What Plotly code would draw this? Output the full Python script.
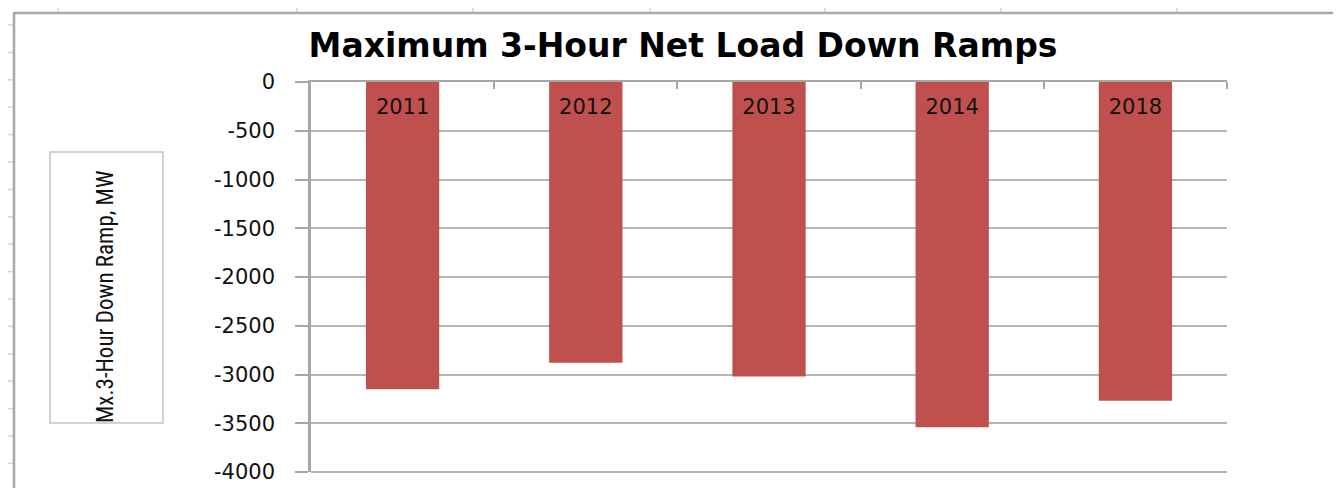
import plotly.graph_objects as go

# ---- data ----
years = ["2011", "2012", "2013", "2014", "2018"]
down_ramp_mw = [-3150, -2880, -3020, -3540, -3270]
y_ticks = [0, -500, -1000, -1500, -2000, -2500, -3000, -3500, -4000]
y_tick_labels = [str(v) for v in y_ticks]

title_text = "Maximum 3-Hour Net Load Down Ramps"
y_title_text = "Mx.3-Hour Down Ramp, MW"

# ---- layout geometry (pixels, in reference-screen coordinates) ----
OFF = 8                      # page body margin
W, H = 1341 - OFF, 488 - OFF  # figure size
L, R, T, B = 311, 1227, 82, 472
PW, PH = R - L, B - T


def xp(px):
    return (px - L) / PW


def yp(py):
    return (B - py) / PH


fig = go.Figure()
fig.add_trace(go.Bar(
    x=years, y=down_ramp_mw, width=0.4,
    marker=dict(color="#C0504D", line=dict(width=0)),
    hoverinfo="x+y",
))

shapes = []
# spreadsheet cell lines behind the chart
for vx in [58, 297, 473, 650, 825, 1001, 1177]:
    shapes.append(dict(type="line", xref="paper", yref="paper",
                       x0=xp(vx), x1=xp(vx), y0=yp(OFF), y1=yp(13),
                       line=dict(color="#d4d4d4", width=1.5), layer="below"))
hy = 25.0
while hy < H + OFF:
    shapes.append(dict(type="line", xref="paper", yref="paper",
                       x0=xp(OFF), x1=xp(13), y0=yp(hy), y1=yp(hy),
                       line=dict(color="#d4d4d4", width=1.5), layer="below"))
    hy += 27.4
# chart area border (top and left)
shapes.append(dict(type="line", xref="paper", yref="paper",
                   x0=xp(13), x1=xp(W + OFF), y0=yp(13), y1=yp(13),
                   line=dict(color="#a8a8a8", width=2.5), layer="below"))
shapes.append(dict(type="line", xref="paper", yref="paper",
                   x0=xp(14), x1=xp(14), y0=yp(13), y1=yp(H + OFF),
                   line=dict(color="#a8a8a8", width=2.5), layer="below"))
# axis title box
shapes.append(dict(type="rect", xref="paper", yref="paper",
                   x0=xp(50), x1=xp(163), y0=yp(423), y1=yp(152),
                   line=dict(color="#c4c4c4", width=1.5), fillcolor="rgba(0,0,0,0)", layer="below"))
# right end tick of category axis
shapes.append(dict(type="line", xref="paper", yref="paper",
                   x0=1, x1=1, y0=1, y1=yp(89),
                   line=dict(color="#a6a6a6", width=2)))
# bottom gridline at the edge of the plot area
shapes.append(dict(type="line", xref="paper", yref="paper",
                   x0=0, x1=1, y0=0, y1=0,
                   line=dict(color="#b5b5b5", width=2), layer="below"))

annotations = [
    dict(text=y_title_text, xref="paper", yref="paper",
         x=xp(105), y=yp(297), xanchor="center", yanchor="middle",
         textangle=-90, showarrow=False,
         font=dict(family="Liberation Sans Narrow, Roboto Condensed, DejaVu Sans Condensed, Arial Narrow, sans-serif",
                   size=23, color="#111111")),
]

fig.update_layout(
    width=W, height=H,
    margin=dict(l=L - OFF, r=W + OFF - R, t=T - OFF, b=H + OFF - B, pad=0, autoexpand=False),
    paper_bgcolor="white", plot_bgcolor="white",
    showlegend=False,
    title=dict(text="<b>" + title_text + "</b>", x=(683 - OFF) / W, xanchor="center",
               y=1 - (45 - OFF) / H, yanchor="middle",
               font=dict(family="DejaVu Sans, Verdana, sans-serif", size=33, color="#000000")),
    xaxis=dict(
        type="category", side="top", range=[-0.5, 4.5], automargin=False,
        showline=True, linecolor="#a6a6a6", linewidth=2,
        ticks="inside", tickson="boundaries", ticklen=7, tickwidth=2, tickcolor="#a6a6a6",
        ticklabelposition="outside", ticklabelstandoff=-42,
        tickfont=dict(family="DejaVu Sans, Verdana, sans-serif", size=21, color="#111111"),
        showgrid=False, zeroline=False,
    ),
    yaxis=dict(
        range=[-4000, 0], tickvals=y_ticks, ticktext=y_tick_labels, automargin=False,
        showline=True, linecolor="#a6a6a6", linewidth=2.5,
        ticks="outside", ticklen=13, tickwidth=2, tickcolor="#a6a6a6",
        ticklabelstandoff=16,
        tickfont=dict(family="DejaVu Sans, Verdana, sans-serif", size=21, color="#111111"),
        showgrid=True, gridcolor="#b5b5b5", gridwidth=2, zeroline=False,
    ),
    shapes=shapes,
    annotations=annotations,
    bargap=0.6,
)

fig.write_html("out.html")
